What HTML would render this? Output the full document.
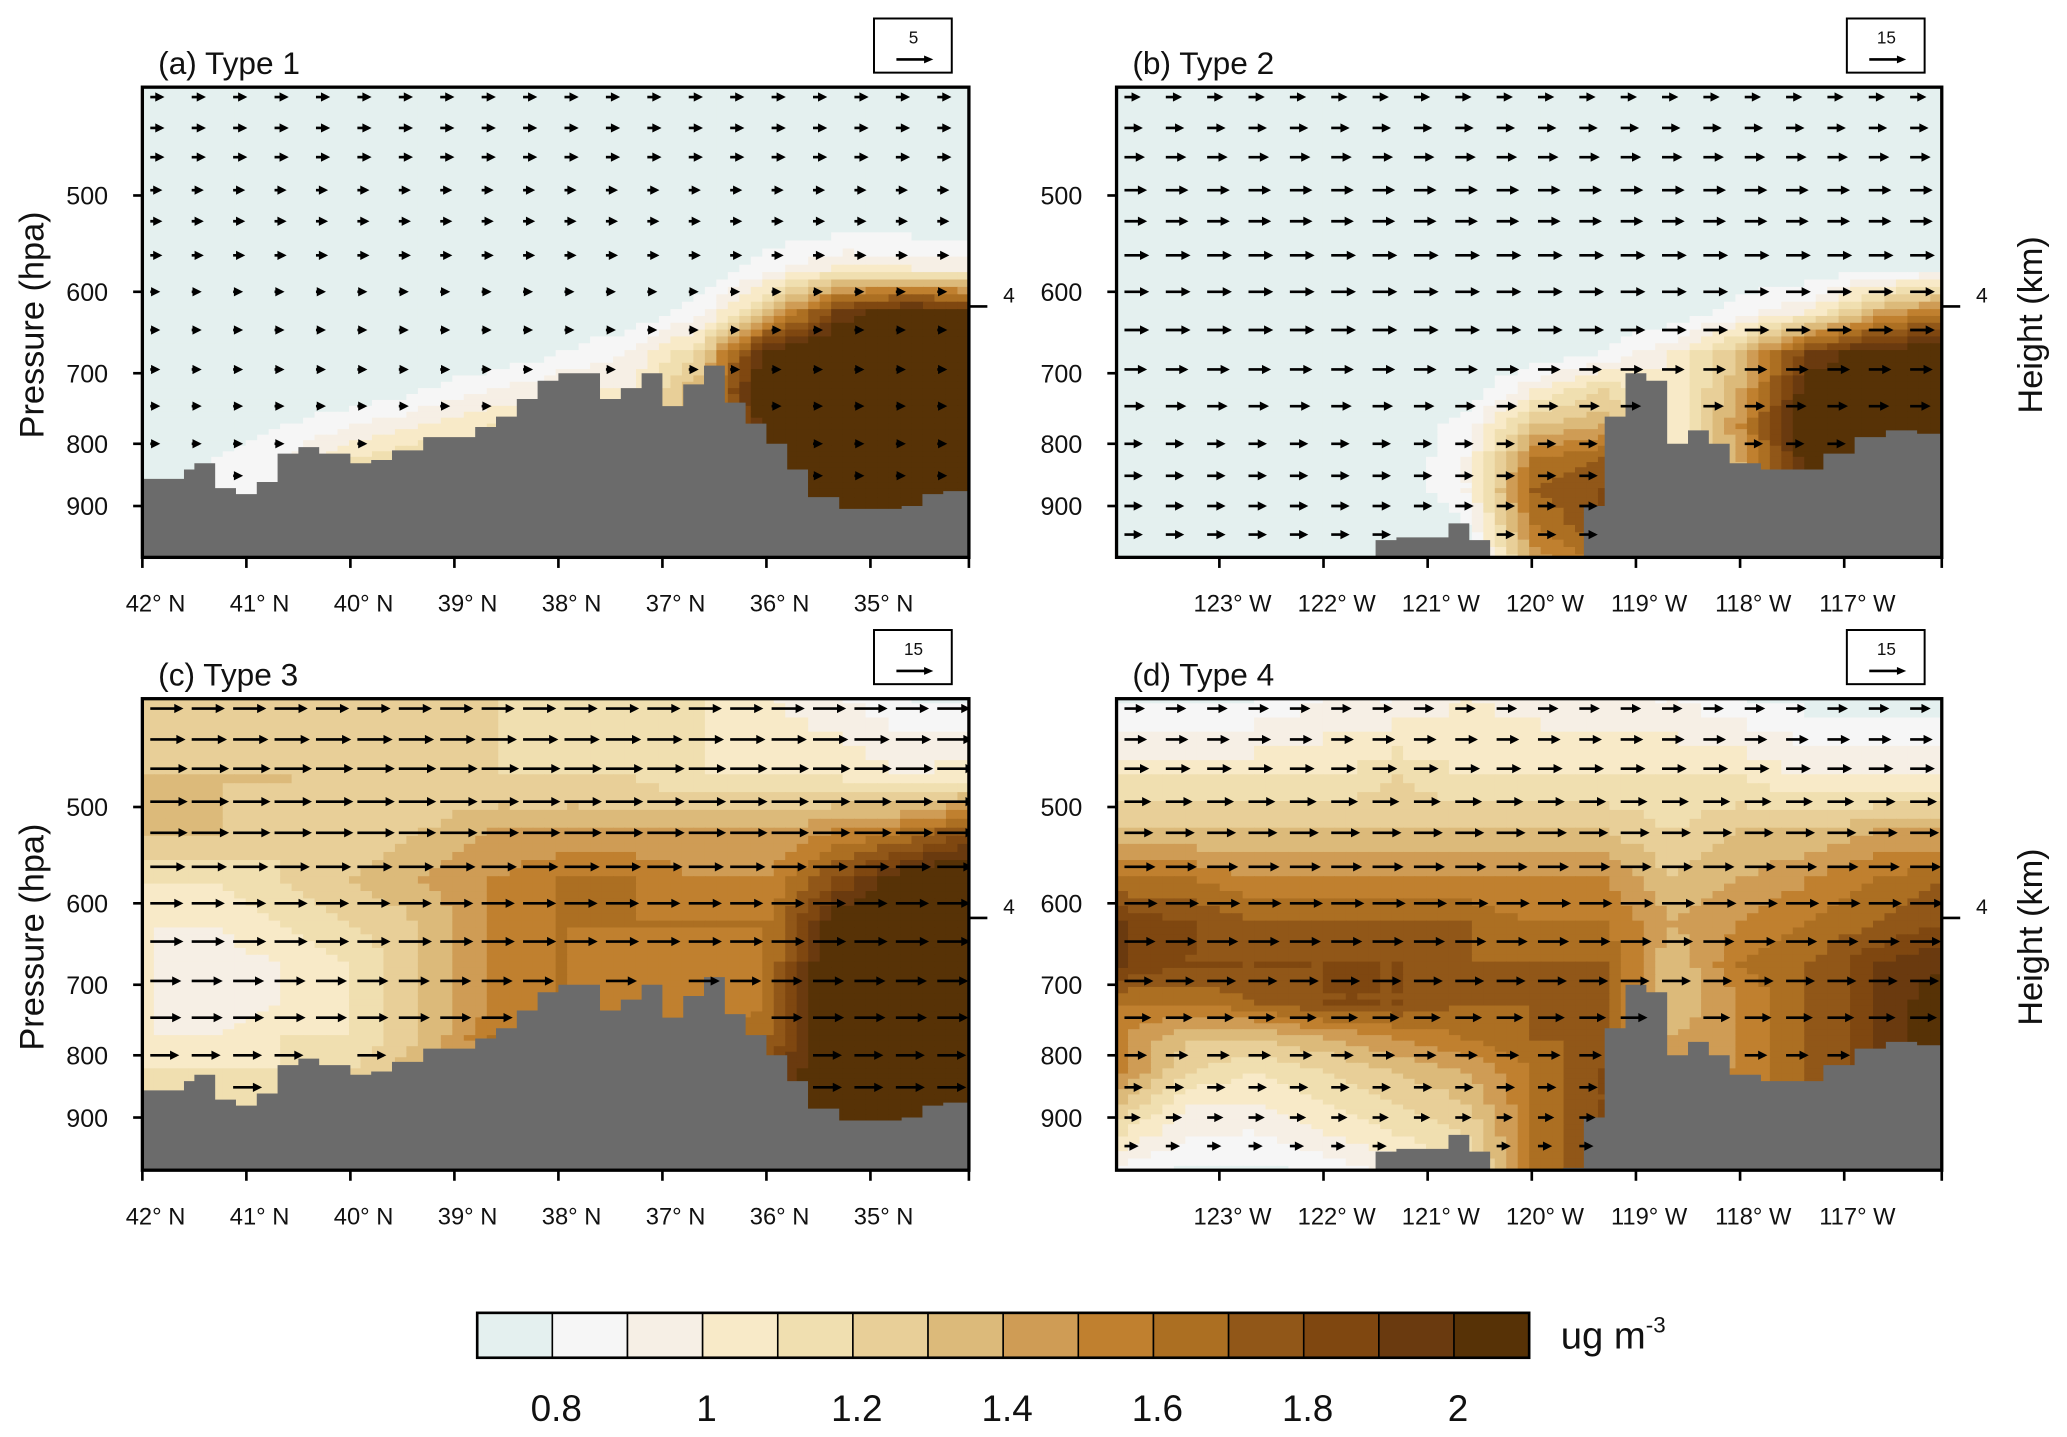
<!DOCTYPE html>
<html><head><meta charset="utf-8"><style>
html,body{margin:0;padding:0;background:#fff}
svg{display:block}
text{font-family:"Liberation Sans",sans-serif;fill:#111}
</style></head><body>
<svg id="chart" width="2067" height="1437" viewBox="0 0 1568 1088" preserveAspectRatio="none" xmlns="http://www.w3.org/2000/svg"></svg>
<script>
// ---- data ----
const colorLevels = [0.8,0.9,1.0,1.1,1.2,1.3,1.4,1.5,1.6,1.7,1.8,1.9,2.0];
const colorHex = ["#e4f0ef","#f6f6f6","#f6efe5","#f8eac8","#f0dfb0","#e8cf98","#dcba7a","#cf9c55","#c0802f","#ac6f22","#915718","#7f4710","#6a3a0f","#573206"];
const cbTickLabels = ["0.8","1","1.2","1.4","1.6","1.8","2"];
const cbTickValues = [0.8,1.0,1.2,1.4,1.6,1.8,2.0];
const pTicks = [500,600,700,800,900];
const fieldP = [400,470,520,570,620,670,720,770,820,870,920,1000];
const latTicks = [42,41,40,39,38,37,36,35];
const lonTicks = [-123,-122,-121,-120,-119,-118,-117];
const terrainLat = [42,41.8,41.6,41.5,41.3,41.1,40.9,40.7,40.5,40.3,40.0,39.8,39.6,39.3,39.0,38.8,38.6,38.4,38.2,38.0,37.8,37.6,37.4,37.2,37.0,36.8,36.6,36.4,36.2,36.0,35.8,35.6,35.3,35.0,34.7,34.5,34.3,34.06];
const terrainLatP = [855,855,840,830,870,880,860,815,805,815,830,825,810,790,790,775,760,735,710,700,700,735,720,700,745,715,690,740,770,800,840,885,905,905,900,880,875,905];
const terrainLon = [-124,-121.8,-121.5,-121.3,-121.0,-120.8,-120.6,-120.4,-120.0,-119.7,-119.5,-119.3,-119.1,-118.9,-118.7,-118.5,-118.3,-118.1,-117.8,-117.5,-117.2,-116.9,-116.6,-116.3,-116.06];
const terrainLonP = [1000,1000,960,955,955,930,960,1000,1000,990,900,760,700,710,800,780,800,830,840,840,815,790,780,785,790];
const fieldA = [
[.7,.7,.7,.7,.7,.7,.7,.7,.7,.7,.7,.7,.7],
[.7,.7,.7,.7,.7,.7,.7,.7,.7,.7,.7,.7,.7],
[.7,.7,.7,.7,.7,.7,.7,.7,.7,.7,.7,.7,.7],
[.7,.7,.7,.7,.7,.7,.7,.7,.7,.85,1.0,1.0,.95],
[.7,.7,.7,.7,.7,.7,.7,.7,.85,1.3,1.9,2.1,2.0],
[.7,.7,.7,.7,.7,.7,.8,.9,1.2,2.1,2.2,2.2,2.2],
[.7,.7,.7,.7,.8,.9,1.0,1.0,1.4,2.2,2.2,2.2,2.2],
[.7,.7,.8,.9,1.0,1.1,1.0,1.1,1.3,2.1,2.2,2.2,2.2],
[.7,.8,.9,1.1,1.2,1.0,1.0,1.0,1.2,2.0,2.2,2.2,2.2],
[.7,.8,.9,1.1,1.2,1.0,1.0,1.0,1.2,2.0,2.2,2.2,2.2],
[.7,.8,.9,1.1,1.2,1.0,1.0,1.0,1.2,2.0,2.2,2.2,2.2],
[.7,.8,.9,1.1,1.2,1.0,1.0,1.0,1.2,2.0,2.2,2.2,2.2]];
const fieldB = [
[.7,.7,.7,.7,.7,.7,.7,.7,.7,.7,.7,.7,.7],
[.7,.7,.7,.7,.7,.7,.7,.7,.7,.7,.7,.7,.7],
[.7,.7,.7,.7,.7,.7,.7,.7,.7,.7,.7,.7,.7],
[.7,.7,.7,.7,.7,.7,.7,.7,.7,.7,.7,.75,.8],
[.7,.7,.7,.7,.7,.7,.7,.7,.7,.85,1.0,1.4,1.6],
[.7,.7,.7,.7,.7,.7,.7,.8,1.0,1.3,1.9,2.1,2.1],
[.7,.7,.7,.7,.7,.7,1.0,1.2,1.0,1.4,2.1,2.2,2.2],
[.7,.7,.7,.7,.7,.85,1.3,1.4,1.0,1.5,2.2,2.2,2.1],
[.7,.7,.7,.7,.7,.9,1.6,1.7,1.0,1.4,2.1,2.0,1.8],
[.7,.7,.7,.7,.7,.9,1.7,1.8,1.0,1.3,2.0,2.0,1.8],
[.7,.7,.7,.7,.7,.8,1.6,1.8,1.0,1.3,2.0,2.0,1.8],
[.7,.7,.7,.7,.7,.7,1.4,1.6,1.0,1.3,2.0,2.0,1.8]];
const fieldC = [
[1.2,1.2,1.2,1.2,1.2,1.2,1.1,1.1,1.1,1.0,.9,.8,.75],
[1.3,1.3,1.3,1.2,1.2,1.2,1.2,1.2,1.1,1.1,1.1,1.0,1.1],
[1.3,1.3,1.2,1.2,1.3,1.4,1.4,1.4,1.4,1.4,1.5,1.6,1.8],
[1.1,1.1,1.2,1.3,1.4,1.5,1.6,1.6,1.5,1.5,1.8,2.1,2.2],
[1.0,1.0,1.1,1.2,1.3,1.5,1.6,1.6,1.6,1.6,2.1,2.2,2.2],
[1.0,.95,1.0,1.1,1.3,1.5,1.6,1.5,1.5,1.6,2.2,2.2,2.2],
[1.0,.9,1.0,1.1,1.3,1.5,1.6,1.5,1.5,1.6,2.2,2.2,2.2],
[1.0,1.0,1.1,1.1,1.3,1.6,1.6,1.5,1.5,1.7,2.2,2.2,2.2],
[1.1,1.1,1.1,1.2,1.4,1.5,1.6,1.5,1.5,1.8,2.2,2.2,2.2],
[1.1,1.1,1.1,1.2,1.4,1.5,1.6,1.5,1.5,1.8,2.2,2.2,2.2],
[1.1,1.1,1.1,1.2,1.4,1.5,1.6,1.5,1.5,1.8,2.2,2.2,2.2],
[1.1,1.1,1.1,1.2,1.4,1.5,1.6,1.5,1.5,1.8,2.2,2.2,2.2]];
const fieldD = [
[.75,.75,.8,.9,.9,1.0,.95,.9,.9,.8,.75,.75,.75],
[1.1,1.1,1.1,1.1,1.2,1.1,1.1,1.1,1.1,1.1,1.0,1.0,1.0],
[1.3,1.3,1.3,1.3,1.3,1.3,1.3,1.3,1.2,1.3,1.3,1.4,1.4],
[1.6,1.6,1.5,1.5,1.5,1.5,1.5,1.5,1.3,1.4,1.5,1.6,1.7],
[1.9,1.8,1.7,1.7,1.7,1.7,1.6,1.6,1.4,1.5,1.6,1.7,1.8],
[1.9,1.8,1.8,1.8,1.8,1.7,1.7,1.7,1.3,1.6,1.7,1.9,2.0],
[1.6,1.6,1.7,1.8,1.8,1.7,1.7,1.7,1.3,1.5,1.7,1.9,2.1],
[1.5,1.3,1.3,1.4,1.5,1.6,1.7,1.7,1.4,1.5,1.7,1.9,2.1],
[1.5,1.2,1.1,1.2,1.3,1.4,1.6,1.8,1.5,1.5,1.7,1.9,2.1],
[1.3,1.0,1.0,1.1,1.2,1.3,1.6,1.8,1.5,1.5,1.7,1.9,2.1],
[1.1,.9,.9,1.0,1.1,1.2,1.6,1.8,1.5,1.5,1.7,1.9,2.1],
[.8,.75,.75,.8,.9,1.1,1.6,1.8,1.5,1.5,1.7,1.9,2.1]];
const arrowP = [415,440,465,495,525,560,600,645,695,745,800,850,900,950];
const uA = [3,3,3,2,2,2,1,1,1,1,1,1,1,1];
const uB = [4,5,6,7,7,8,8,8,7,6,5,5,5,5];
const uC = [12,13,14,14,14,13,12,12,11,11,10,10,10,10];
const uD = [6,7,8,9,10,11,12,11,10,9,7,5,4,3];
const refVal = ["5","15","15","15"];
const titles = ["(a) Type 1","(b) Type 2","(c) Type 3","(d) Type 4"];

// ---- drawing ----
const svg = document.getElementById('chart');
const NS = 'http://www.w3.org/2000/svg';
function mk(tag, attrs, parent){const e=document.createElementNS(NS,tag);for(const k in attrs)e.setAttribute(k,attrs[k]);(parent||svg).appendChild(e);return e;}
function colorOf(v){let i=0;while(i<colorLevels.length&&v>=colorLevels[i])i++;return colorHex[i];}
const defs = mk('defs',{});
const panels = [
 {x0:108,x1:735,y0:66,y1:422,geo:'lat',field:fieldA,u:uA,name:'panel-a'},
 {x0:847,x1:1473,y0:66,y1:422,geo:'lon',field:fieldB,u:uB,name:'panel-b'},
 {x0:108,x1:735,y0:529,y1:886,geo:'lat',field:fieldC,u:uC,name:'panel-c'},
 {x0:847,x1:1473,y0:529,y1:886,geo:'lon',field:fieldD,u:uD,name:'panel-d'}];
panels.forEach((P,pi)=>{
  const g = mk('g',{});
  
  
  const w = P.x1-P.x0, h = P.y1-P.y0;
  const cp = mk('clipPath',{id:'clip'+pi},defs);
  mk('rect',{x:P.x0,y:P.y0,width:w,height:h},cp);
  const inner = mk('g',{'clip-path':'url(#clip'+pi+')'},g);
  const yP = p => P.y0 + (148-66) + 400*(Math.log(p)-Math.log(500));
  const xG = P.geo==='lat' ? (d => P.x0 + (42-d)*78.9) : (d => 925 + (d+123)*79);
  // field
  const F = P.field, nc = F[0].length, nr = F.length;
  const sub = 6;
  const cw = w/((nc-1)*sub);
  for(let r=0;r<nr-1;r++){
    const ya=yP(fieldP[r]), yb=yP(fieldP[r+1]);
    for(let s=0;s<sub;s++){
      const t=s/sub, rowY=ya+(yb-ya)*t, rowH=(yb-ya)/sub+0.6;
      for(let c=0;c<nc-1;c++){
        for(let q=0;q<sub;q++){
          const tq=q/sub;
          const v=(F[r][c]*(1-tq)+F[r][c+1]*tq)*(1-t)+(F[r+1][c]*(1-tq)+F[r+1][c+1]*tq)*t;
          mk('rect',{x:P.x0+(c*sub+q)*cw,y:rowY,width:cw+0.6,height:rowH,fill:colorOf(v)},inner);
        }
      }
    }
  }
  // terrain
  const TX = P.geo==='lat'?terrainLat:terrainLon, TP = P.geo==='lat'?terrainLatP:terrainLonP;
  let d='M'+P.x0+','+P.y1;
  for(let i=0;i<TX.length;i++){
    const x=Math.max(P.x0,Math.min(P.x1,xG(TX[i]))), y=Math.min(P.y1,yP(TP[i]));
    d+=' L'+x+','+y;
    if(i<TX.length-1){const xn=Math.max(P.x0,Math.min(P.x1,xG(TX[i+1])));d+=' L'+xn+','+y;}
  }
  d+=' L'+P.x1+','+P.y1+' Z';
  const terr=mk('path',{d:d,fill:'#6b6b6b'},inner);
  
  
  // arrows
  const ag = mk('g',{stroke:'#000','stroke-width':2,fill:'none'},inner);
  
  
  const surf = x => {let p=2000;for(let i=0;i<TX.length-1;i++){const a=xG(TX[i]),b=xG(TX[i+1]);if(x>=Math.min(a,b)&&x<=Math.max(a,b))p=TP[i];}return p;};
  const nCols = 20;
  arrowP.forEach((p,ri)=>{
    const y=yP(p); if(y<P.y0+4||y>P.y1-6)return;
    for(let c=0;c<nCols;c++){
      const x=P.x0+6+c*(w-30)/(nCols-1);
      if(p>surf(x)-15)continue;
      const len=4+P.u[ri]*1.6;
      mk('line',{x1:x,y1:y,x2:x+len,y2:y},ag);
      mk('path',{d:`M${x+len-5},${y-3.5} L${x+len+2},${y} L${x+len-5},${y+3.5} Z`,fill:'#000',stroke:'none'},ag);
    }
  });
  // frame
  const fr=mk('rect',{x:P.x0,y:P.y0,width:w,height:h,fill:'none',stroke:'#000','stroke-width':2.5},g);
  
  
  // title
  const tt=mk('text',{x:P.x0+12,y:P.y0-10,'font-size':24},g); tt.textContent=titles[pi];
  
  
  // reference vector box
  const bx=P.x1-72, by=P.y0-52;
  const rb=mk('g',{},g);
  
  
  mk('rect',{x:bx,y:by,width:59,height:41,fill:'#fff',stroke:'#000','stroke-width':1.5},rb);
  const rt=mk('text',{x:bx+30,y:by+19,'font-size':13,'text-anchor':'middle'},rb); rt.textContent=refVal[pi];
  mk('line',{x1:bx+17,y1:by+31,x2:bx+42,y2:by+31,stroke:'#000','stroke-width':2},rb);
  mk('path',{d:`M${bx+38},${by+28} L${bx+45},${by+31} L${bx+38},${by+34} Z`,fill:'#000'},rb);
  // y ticks
  pTicks.forEach(p=>{
    const y=yP(p);
    mk('line',{x1:P.x0-7,y1:y,x2:P.x0,y2:y,stroke:'#000','stroke-width':2},g);
    const t=mk('text',{x:P.x0-26,y:y+7,'font-size':19,'text-anchor':'end'},g); t.textContent=p;
    
    
  });
  // height tick 4 km
  const y4=P.y0+166;
  mk('line',{x1:P.x1,y1:y4,x2:P.x1+14,y2:y4,stroke:'#000','stroke-width':2},g);
  const t4=mk('text',{x:P.x1+26,y:y4-3,'font-size':16},g); t4.textContent='4';
  // x ticks
  const ticks = P.geo==='lat'?latTicks:lonTicks;
  ticks.forEach(v=>{
    const x=xG(v);
    mk('line',{x1:x,y1:P.y1,x2:x,y2:P.y1+8,stroke:'#000','stroke-width':2},g);
    const lbl = P.geo==='lat' ? Math.abs(v)+'° N' : Math.abs(v)+'° W';
    const t=mk('text',{x:x+10,y:P.y1+41,'font-size':18,'text-anchor':'middle'},g); t.textContent=lbl;
    
    
  });
  mk('line',{x1:P.x1,y1:P.y1,x2:P.x1,y2:P.y1+8,stroke:'#000','stroke-width':2},g);
  // axis titles
  const yc=(P.y0+P.y1)/2+2;
  if(P.geo==='lat'){
    const a=mk('text',{x:0,y:0,'font-size':26,'text-anchor':'middle',transform:`translate(33,${yc}) rotate(-90)`},g); a.textContent='Pressure (hpa)';
    
    
  } else {
    const a=mk('text',{x:0,y:0,'font-size':26,'text-anchor':'middle',transform:`translate(1549,${yc}) rotate(-90)`},g); a.textContent='Height (km)';
    
    
  }
});
// colorbar
const cb=mk('g',{});


const cbx0=362, cbw=57, cby=994, cbh=34;
colorHex.forEach((c,i)=>{
  const r=mk('rect',{x:cbx0+i*cbw,y:cby,width:cbw,height:cbh,fill:c,stroke:'#000','stroke-width':1.2},cb);
  
  
});
mk('rect',{x:cbx0,y:cby,width:cbw*colorHex.length,height:cbh,fill:'none',stroke:'#000','stroke-width':2},cb);
const cbX = v => cbx0 + cbw*(1+Math.round((v-0.8)*10));
cbTickValues.forEach((v,i)=>{
  const t=mk('text',{x:cbX(v)+3,y:1076,'font-size':28,'text-anchor':'middle'},cb); t.textContent=cbTickLabels[i];
  
  
});
const un=mk('text',{x:1184,y:1021,'font-size':29},cb);
un.innerHTML='ug m<tspan font-size="17" dy="-12">-3</tspan>';


</script>
</body></html>
